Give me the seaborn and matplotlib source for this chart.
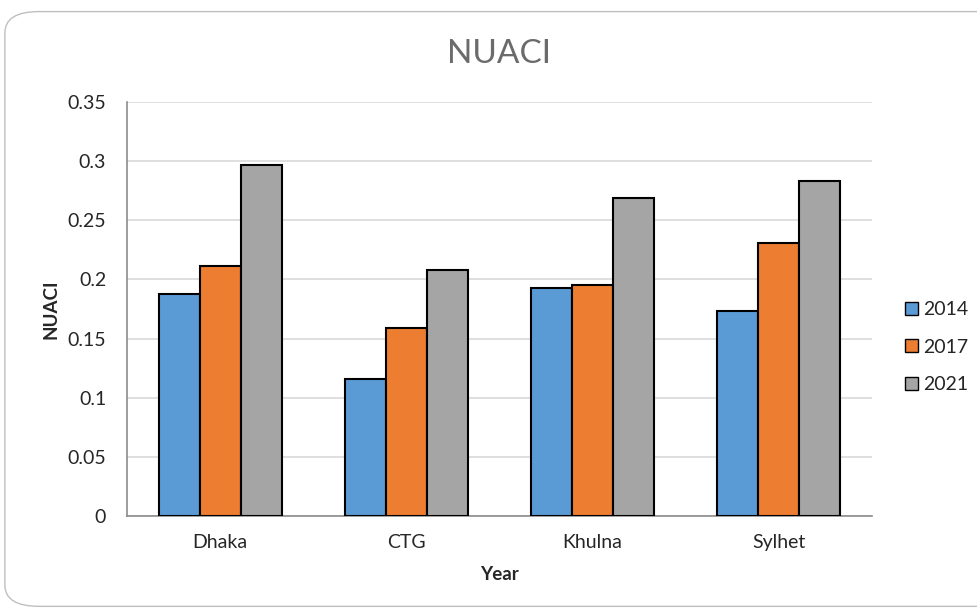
import pandas as pd
import matplotlib.pyplot as plt
import seaborn as sns
from matplotlib.patches import FancyBboxPatch

# values
cities = ["Dhaka", "CTG", "Khulna", "Sylhet"]
years = ["2014", "2017", "2021"]
nuaci_2014 = [0.188, 0.116, 0.193, 0.173]
nuaci_2017 = [0.211, 0.159, 0.195, 0.231]
nuaci_2021 = [0.297, 0.208, 0.269, 0.283]
y_ticks = [0, 0.05, 0.1, 0.15, 0.2, 0.25, 0.3, 0.35]
y_tick_labels = ["0", "0.05", "0.1", "0.15", "0.2", "0.25", "0.3", "0.35"]

colors = ["#5B9BD5", "#ED7D31", "#A5A5A5"]

df = pd.DataFrame({
    "Year": cities * 3,
    "Series": [years[0]] * 4 + [years[1]] * 4 + [years[2]] * 4,
    "NUACI": nuaci_2014 + nuaci_2017 + nuaci_2021,
})

sns.set_theme(style="white")
plt.rcParams["font.family"] = ["Lato", "DejaVu Sans"]

fig = plt.figure(figsize=(9.77, 6.10), dpi=100)
ax = fig.add_axes([0.130, 0.154, 0.7625, 0.679])

# rounded chart frame (runs off the right edge like the reference)
frame = FancyBboxPatch((0.005, 0.006), 1.05, 0.975,
                       boxstyle="round,pad=0,rounding_size=0.035",
                       transform=fig.transFigure, facecolor="none",
                       edgecolor="#BFBFBF", linewidth=1.0, zorder=0)
fig.patches.append(frame)

sns.barplot(data=df, x="Year", y="NUACI", hue="Series", palette=colors,
            width=0.66, gap=0, edgecolor="black", linewidth=1.5,
            saturation=1, ax=ax, zorder=3)

ax.set_ylim(0, 0.35)
ax.set_yticks(y_ticks)
ax.set_yticklabels(y_tick_labels)
ax.yaxis.grid(True, color="#D9D9D9", linewidth=1.2, zorder=0)
ax.set_axisbelow(True)
ax.tick_params(axis="both", length=0, labelsize=14, colors="#262626")
ax.tick_params(axis="x", pad=13)
ax.tick_params(axis="y", pad=15)

for side in ["top", "right"]:
    ax.spines[side].set_visible(False)
ax.spines["left"].set_color("#8C8C8C")
ax.spines["bottom"].set_color("#8C8C8C")
ax.spines["left"].set_linewidth(1.2)
ax.spines["bottom"].set_linewidth(1.2)

ax.set_xlabel("Year", fontsize=13.5, fontweight="bold", labelpad=11, color="#262626")
ax.set_ylabel("NUACI", fontsize=13.5, fontweight="bold", labelpad=6, color="#262626")
ax.set_title("NUACI", fontsize=24, color="#6B6B6B", fontweight="normal", pad=28)

leg = fig.legend(*ax.get_legend_handles_labels(), loc="center left",
                 bbox_to_anchor=(0.918, 0.431), borderaxespad=0, frameon=False,
                 fontsize=14, handlelength=0.68, handleheight=0.68,
                 handletextpad=0.28, labelspacing=1.05)
ax.get_legend().remove()
for h in leg.legend_handles:
    h.set_linewidth(1.0)
for t in leg.get_texts():
    t.set_color("#262626")

plt.savefig("out.png", dpi=100)
